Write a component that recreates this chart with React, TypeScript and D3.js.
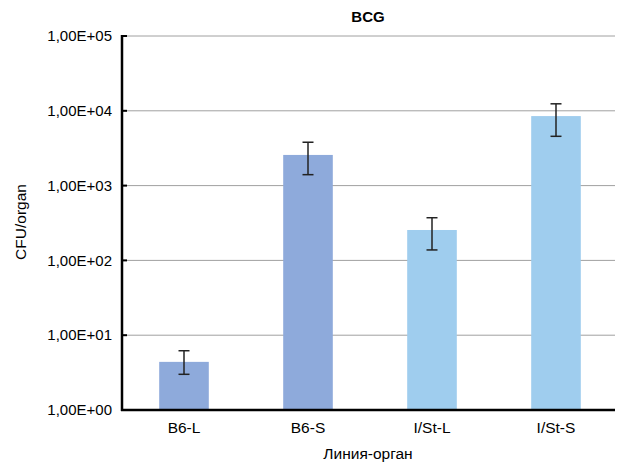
import React from 'react';
import * as d3 from 'd3';

const width = 621;
const height = 467;
const margin = { top: 36, right: 3, bottom: 57, left: 122 };

const categories = ['B6-L', 'B6-S', 'I/St-L', 'I/St-S'];
const values = [4.4, 2570, 255, 8500];
const errLow = [3.0, 1400, 138, 4560];
const errHigh = [6.2, 3800, 372, 12400];
const barColors = ['#8eaadb', '#8eaadb', '#9fcdee', '#9fcdee'];
const yTicks = [1, 10, 100, 1000, 10000, 100000];
const yTickLabels = ['1,00E+00', '1,00E+01', '1,00E+02', '1,00E+03', '1,00E+04', '1,00E+05'];

const font = 'Liberation Sans, Arial, Helvetica, sans-serif';

const App = () => {
  const innerWidth = width - margin.left - margin.right;
  const innerHeight = height - margin.top - margin.bottom;

  const xScale = d3.scaleBand().domain(categories).range([0, innerWidth])
    .paddingInner(0.6).paddingOuter(0.3);
  const yScale = d3.scaleLog().domain([1, 100000]).range([innerHeight, 0]);

  return (
    <svg width={width} height={height} style={{ position: 'absolute', left: 0, top: 0 }}>
      <text x={368} y={22} textAnchor="middle" fontFamily={font} fontSize={15} fontWeight="bold">
        BCG
      </text>
      <g transform={`translate(${margin.left},${margin.top})`}>
        {yTicks.map((t, i) => (
          <g key={t} transform={`translate(0,${yScale(t)})`}>
            {i > 0 && <line x1={0} x2={innerWidth - 3} stroke="#a0a0a0" strokeWidth={1} />}
            <line x1={0} x2={5} stroke="#000" strokeWidth={2} />
            <text x={-10} dy="0.35em" textAnchor="end" fontFamily={font} fontSize={15}>
              {yTickLabels[i]}
            </text>
          </g>
        ))}
        {categories.map((c, i) => {
          const x = xScale(c) as number;
          const cx = x + xScale.bandwidth() / 2;
          return (
            <g key={c}>
              <rect x={x} y={yScale(values[i])} width={xScale.bandwidth()} height={innerHeight - yScale(values[i])} fill={barColors[i]} />
              <line x1={cx} x2={cx} y1={yScale(errLow[i])} y2={yScale(errHigh[i])} stroke="#222" strokeWidth={1.5} />
              <line x1={cx - 5.5} x2={cx + 5.5} y1={yScale(errLow[i])} y2={yScale(errLow[i])} stroke="#222" strokeWidth={1.5} />
              <line x1={cx - 5.5} x2={cx + 5.5} y1={yScale(errHigh[i])} y2={yScale(errHigh[i])} stroke="#222" strokeWidth={1.5} />
              <text x={cx} y={innerHeight + 23} textAnchor="middle" fontFamily={font} fontSize={15.5}>
                {c}
              </text>
            </g>
          );
        })}
        <line x1={0} x2={0} y1={-1} y2={innerHeight + 1} stroke="#000" strokeWidth={2.5} />
        <line x1={-1} x2={innerWidth - 3} y1={innerHeight} y2={innerHeight} stroke="#000" strokeWidth={2.5} />
        <text x={246} y={innerHeight + 49} textAnchor="middle" fontFamily={font} fontSize={15.5}>
          Линия-орган
        </text>
      </g>
      <text transform={`translate(26,222) rotate(-90)`} textAnchor="middle" fontFamily={font} fontSize={15.5}>
        CFU/organ
      </text>
    </svg>
  );
};

export default App;
